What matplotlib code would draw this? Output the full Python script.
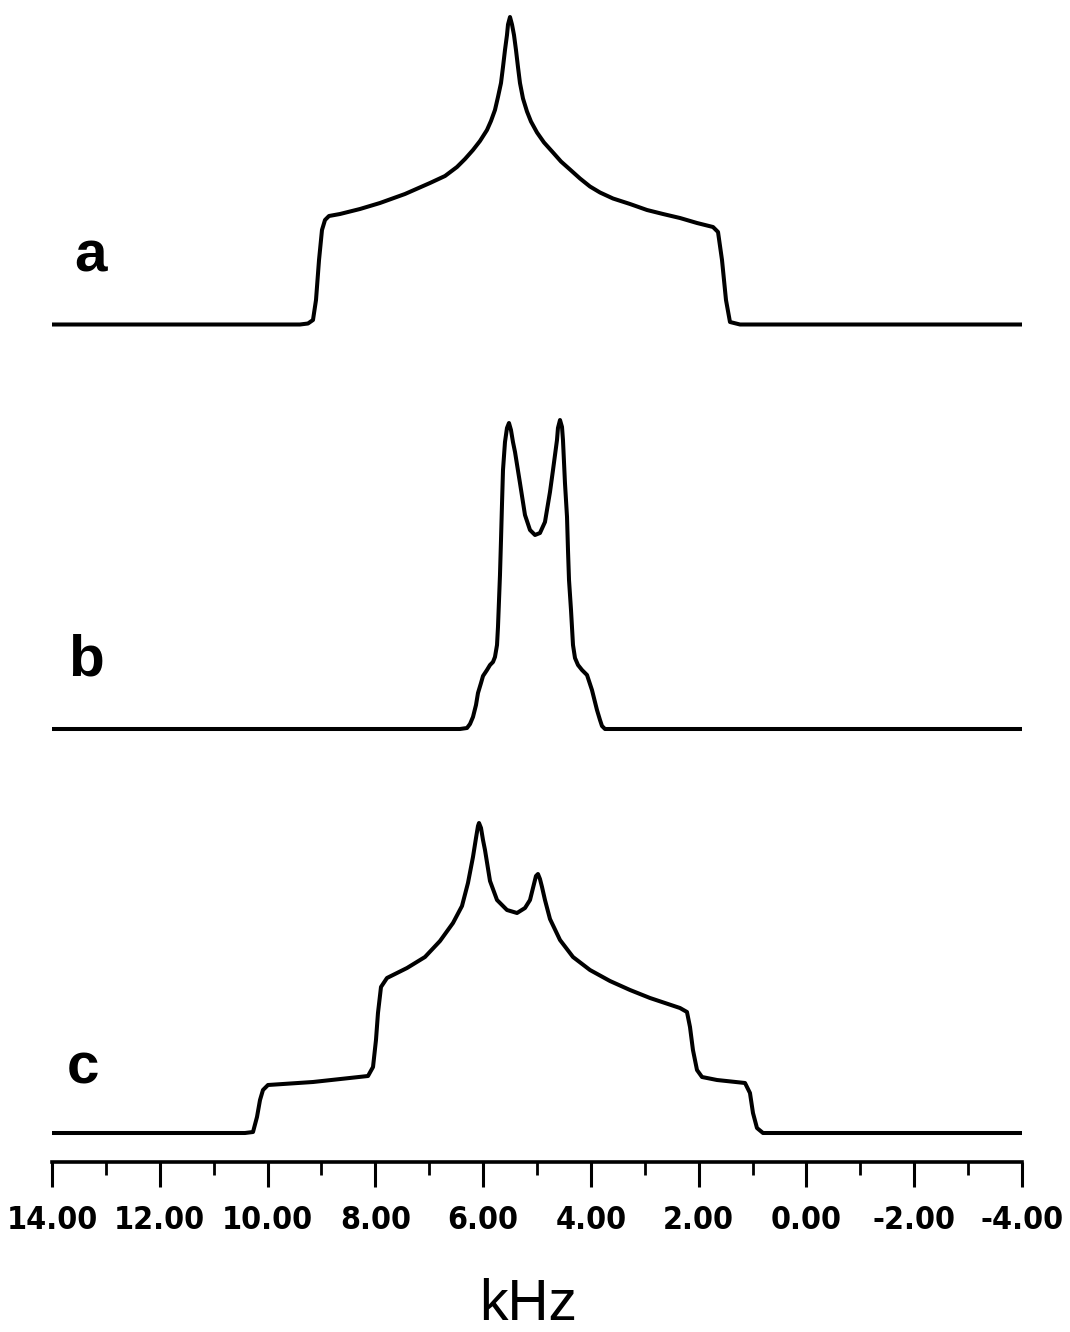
import numpy as np
import matplotlib
matplotlib.use("Agg")
import matplotlib.pyplot as plt
from matplotlib.ticker import FixedLocator

# Frequency axis (kHz) and tick labels
major_ticks = [14, 12, 10, 8, 6, 4, 2, 0, -2, -4]
minor_ticks = [13, 11, 9, 7, 5, 3, 1, -1, -3]
tick_labels = ["14.00", "12.00", "10.00", "8.00", "6.00", "4.00",
               "2.00", "0.00", "-2.00", "-4.00"]

# Spectrum a: single powder pattern (frequency in kHz, intensity in arbitrary units)
freq_a = [14.0, 9.398, 9.250, 9.157, 9.101, 9.045, 8.990, 8.934, 8.860, 8.656,
          8.285, 7.914, 7.450, 6.986, 6.707, 6.485, 6.336, 6.188, 6.058, 5.928,
          5.854, 5.780, 5.724, 5.668, 5.631, 5.594, 5.557, 5.538, 5.501, 5.464,
          5.427, 5.390, 5.353, 5.316, 5.260, 5.186, 5.112, 5.000, 4.870, 4.703,
          4.555, 4.388, 4.202, 4.017, 3.831, 3.590, 3.274, 2.959, 2.662, 2.347,
          2.031, 1.734, 1.641, 1.567, 1.493, 1.419, 1.233, -4.0]
int_a = [0, 0, 1, 4.5, 24.5, 64.5, 94.5, 104.5, 108.5, 110.5,
         115.5, 121.5, 130.5, 141.5, 148.5, 157.5, 165.5, 174.5, 183.5, 194.5,
         203.5, 214.5, 227.5, 241.5, 257.5, 274.5, 289.5, 300, 307.5, 300,
         289.5, 274.5, 257.5, 241.5, 226, 213, 203, 192, 182, 172,
         163, 155, 146, 138, 132, 126, 120.5, 114.5, 110.5, 106.5,
         101.5, 97.5, 92.5, 64.5, 24.5, 2.5, 0, 0]

# Spectrum b: narrow doublet
freq_b = [14.0, 6.429, 6.299, 6.243, 6.188, 6.132, 6.095, 6.039, 6.002, 5.928,
          5.872, 5.817, 5.780, 5.742, 5.724, 5.687, 5.668, 5.650, 5.631, 5.594,
          5.557, 5.520, 5.483, 5.446, 5.408, 5.316, 5.223, 5.130, 5.037, 4.945,
          4.852, 4.759, 4.703, 4.629, 4.611, 4.573, 4.536, 4.518, 4.481, 4.443,
          4.425, 4.406, 4.369, 4.332, 4.295, 4.239, 4.165, 4.072, 3.980, 3.887,
          3.831, 3.794, 3.738, -4.0]
int_b = [0, 0, 1, 5, 12, 24, 36, 46, 53, 59,
         64, 67, 72, 84, 102, 154, 189, 224, 259, 287,
         301, 306, 299, 287, 277, 246, 214, 199, 194, 196,
         207, 237, 259, 289, 301, 309, 302, 289, 246, 212,
         179, 149, 119, 84, 71, 64, 59, 54, 39, 19,
         9, 3, 0, 0]

# Spectrum c: superposition of two powder patterns
freq_c = [14.0, 10.419, 10.270, 10.196, 10.140, 10.085, 9.992, 9.157, 8.136, 8.043,
          7.988, 7.951, 7.895, 7.784, 7.412, 7.079, 6.800, 6.559, 6.392, 6.281,
          6.188, 6.132, 6.095, 6.076, 6.039, 6.002, 5.965, 5.872, 5.742, 5.557,
          5.371, 5.223, 5.130, 5.056, 5.019, 4.982, 4.945, 4.907, 4.852, 4.759,
          4.573, 4.332, 4.017, 3.646, 3.274, 2.903, 2.347, 2.217, 2.161, 2.106,
          2.031, 1.938, 1.660, 1.140, 1.048, 0.992, 0.918, 0.806, -4.0]
int_c = [0, 0, 1, 16, 33, 43, 48, 51, 57, 66,
         93, 120, 146, 155, 165, 176, 192, 210, 227, 250,
         276, 295, 307, 310, 305, 293, 283, 252, 233, 223,
         220, 225, 233, 249, 257, 259, 254, 246, 233, 214,
         193, 176, 163, 152, 143, 135, 125, 121, 106, 83,
         63, 56, 53, 50, 40, 20, 5, 0, 0]

spectra = [("a", freq_a, int_a), ("b", freq_b, int_b), ("c", freq_c, int_c)]
offsets = [837.5, 433, 29]
label_pos = [(13.29, 905), (13.37, 502), (13.42, 94)]

fig = plt.figure(figsize=(10.7, 13.32), dpi=100)
ax = fig.add_axes([52 / 1070, (1332 - 1162) / 1332, 970 / 1070, 1162 / 1332])
ax.set_xlim(14, -4)
ax.set_ylim(0, 1162)

for (name, f, inten), off, (lx, ly) in zip(spectra, offsets, label_pos):
    ax.plot(f, np.asarray(inten) + off, color="black", lw=2.9,
            solid_joinstyle="round", solid_capstyle="round")
    ax.text(lx, ly, name, ha="center", va="center", fontsize=42,
            fontweight="bold", family="Liberation Sans", clip_on=False)

for side in ("top", "left", "right"):
    ax.spines[side].set_visible(False)
ax.spines["bottom"].set_linewidth(2.6)
ax.set_yticks([])

ax.xaxis.set_major_locator(FixedLocator(major_ticks))
ax.xaxis.set_minor_locator(FixedLocator(minor_ticks))
ax.set_xticklabels(tick_labels, family="DejaVu Sans", fontstretch="condensed",
                   fontweight="bold", fontsize=23)
ax.tick_params(axis="x", which="major", direction="out", length=18, width=2.2, pad=13)
ax.tick_params(axis="x", which="minor", direction="out", length=9, width=2.0)

fig.text(528 / 1070, 1 - 1305 / 1332, "kHz", ha="center", va="center",
         fontsize=41, family="Liberation Sans")

fig.savefig("out.png", dpi=100, facecolor="white")
